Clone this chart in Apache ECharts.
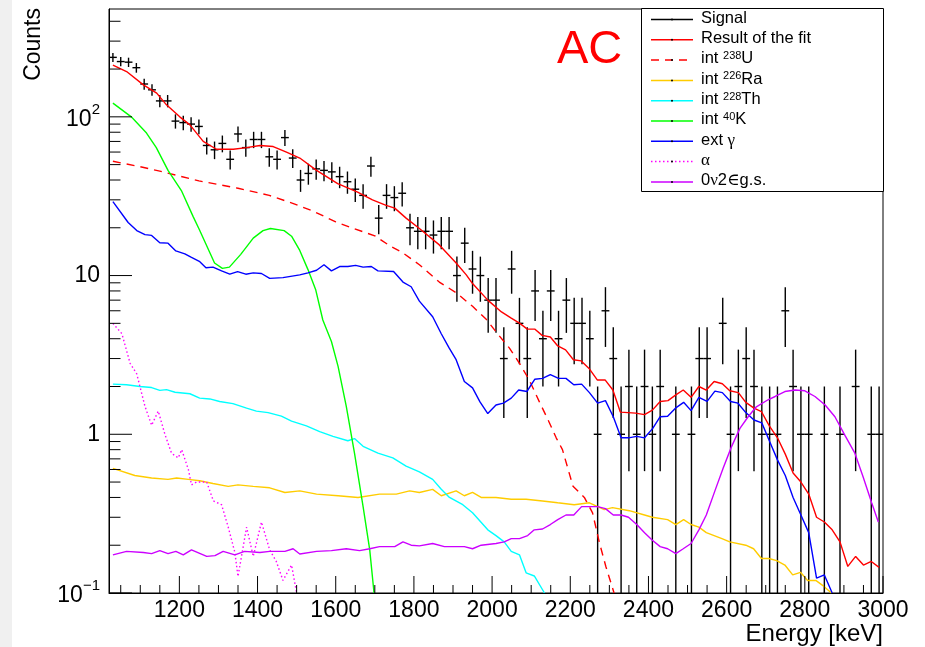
<!DOCTYPE html>
<html>
<head>
<meta charset="utf-8">
<title>AC energy spectrum fit</title>
<script src="https://cdn.jsdelivr.net/npm/echarts@6/dist/echarts.min.js"></script>
<style>
  html, body { margin: 0; padding: 0; background: #ffffff; }
  #chart { width: 925px; height: 647px; }
</style>
</head>
<body>
<div id="chart"></div>
<script>
// ---------- histogram binning ----------
const binLow = 1020;
const binWidth = 20;

// measured counts per 20 keV bin, 1020-3000 keV
const signalCounts = [
  237, 223, 221, 204, 161, 148, 126, 126, 94, 92,
  90, 87, 66, 62, 68, 54, 78, 64, 72, 72,
  56, 54, 74, 55, 40, 44, 47, 46, 45, 42,
  39, 35, 32, 49, 23, 32, 31, 33, 20, 19,
  19, 18, 19, 19, 10, 16, 11, 10, 7, 7,
  3, 11, 5, 3, 8, 4, 8, 4, 7, 5,
  5, 4, 1, 6, 3, 1, 2, 1, 2, 1,
  2, 0, 1, 0, 1, 3, 3, 0, 5, 1,
  2, 3, 2, 1, 1, 1, 6, 2, 1, 1,
  0, 1, 0, 1, 0, 2, 0, 1, 1
];

// total fit [keV, counts]
const fitCurve = [
  [1030,212],[1065,193],[1108,159],[1142,141],[1167,119],[1201,100],[1227,89],[1261,70],
  [1295,62.5],[1338,62.5],[1372,64],[1406,66],[1440,65],[1474,60],[1508,55],[1551,46],
  [1605,38],[1656,33.5],[1694,30],[1729,27.7],[1751,26.6],[1780,23],[1814,19.8],[1865,15.6],
  [1908,12],[1934,10.1],[1950,8.9],[1989,7.0],[2024,5.9],[2049,5.4],[2071,5.0],[2090,4.6],
  [2109,4.6],[2128,4.2],[2149,4.1],[2168,3.6],[2188,3.4],[2208,2.95],[2228,2.9],[2248,2.6],
  [2269,2.2],[2289,2.2],[2309,1.9],[2328,1.38],[2348,1.37],[2367,1.36],[2390,1.33],[2410,1.42],
  [2430,1.61],[2450,1.63],[2470,1.77],[2489,1.9],[2509,1.71],[2529,2.0],[2548,1.9],[2568,2.15],
  [2589,2.08],[2608,1.88],[2630,1.83],[2649,1.59],[2670,1.46],[2689,1.39],[2710,1.12],[2730,0.95],
  [2750,0.75],[2770,0.57],[2790,0.5],[2810,0.42],[2830,0.30],[2850,0.28],[2870,0.25],[2890,0.21],
  [2910,0.147],[2930,0.17],[2950,0.15],[2970,0.158],[2990,0.145]
];

// internal 238U
const u238Curve = [
  [1030,52.5],[1100,48.5],[1150,45.5],[1250,39.5],[1350,35.5],[1430,32],[1490,28.5],[1540,25.6],
  [1600,21.8],[1640,20],[1700,17.8],[1740,15.3],[1770,14],[1814,11.7],[1865,9.1],[1908,7.8],
  [1950,6.4],[1985,5.3],[2014,4.3],[2044,3.5],[2070,2.8],[2095,2.2],[2121,1.6],[2142,1.25],
  [2164,0.95],[2180,0.8],[2207,0.47],[2236,0.40],[2257,0.32],[2274,0.21],[2291,0.147],[2312,0.1]
];

// internal 226Ra
const ra226Curve = [
  [1030,0.61],[1086,0.55],[1129,0.53],[1171,0.52],[1193,0.53],[1223,0.52],[1252,0.51],[1286,0.49],
  [1325,0.47],[1350,0.48],[1389,0.47],[1431,0.46],[1470,0.43],[1508,0.44],[1551,0.42],[1606,0.41],
  [1657,0.40],[1712,0.42],[1755,0.42],[1789,0.44],[1814,0.43],[1848,0.45],[1870,0.41],[1908,0.44],
  [1929,0.41],[1950,0.43],[1972,0.40],[2010,0.40],[2049,0.39],[2087,0.39],[2129,0.38],[2168,0.37],
  [2210,0.36],[2249,0.37],[2287,0.335],[2308,0.345],[2351,0.33],[2390,0.31],[2410,0.30],[2449,0.29],
  [2470,0.27],[2490,0.29],[2509,0.27],[2529,0.26],[2548,0.24],[2588,0.22],[2608,0.21],[2649,0.20],
  [2669,0.19],[2689,0.165],[2708,0.165],[2728,0.16],[2749,0.15],[2769,0.13],[2789,0.135],[2807,0.12],
  [2828,0.12],[2849,0.11],[2868,0.1]
];

// internal 228Th
const th228Curve = [
  [1030,2.07],[1065,2.05],[1099,2.0],[1129,1.97],[1150,1.89],[1167,1.91],[1189,1.84],[1227,1.80],
  [1252,1.69],[1278,1.67],[1303,1.61],[1337,1.56],[1372,1.46],[1397,1.40],[1427,1.37],[1461,1.30],
  [1487,1.21],[1525,1.13],[1559,1.04],[1593,0.97],[1631,0.91],[1648,0.94],[1670,0.84],[1708,0.76],
  [1746,0.71],[1780,0.63],[1814,0.58],[1848,0.52],[1870,0.45],[1891,0.40],[1925,0.36],[1950,0.32],
  [1989,0.25],[2010,0.23],[2031,0.21],[2049,0.183],[2070,0.174],[2087,0.134],[2108,0.128],[2134,0.1]
];

// internal 40K
const k40Curve = [
  [1030,122],[1077,100],[1116,79],[1141,64],[1171,46],[1206,34],[1235,23.6],[1251,19.5],
  [1290,12],[1310,11.1],[1328,11.3],[1357,13.6],[1389,17.2],[1414,19.2],[1433,19.8],[1468,19.2],
  [1487,17.7],[1508,14.4],[1529,10.9],[1549,8.1],[1567,5.25],[1589,3.84],[1606,2.68],[1627,1.5],
  [1648,0.76],[1670,0.35],[1687,0.187],[1698,0.1]
];

// external gamma
const extGammaCurve = [
  [1030,29.2],[1069,21.6],[1091,19.2],[1112,18.1],[1129,17.9],[1150,16.1],[1171,16],[1191,14.3],
  [1214,13.7],[1231,13.0],[1251,12.3],[1268,11.2],[1286,11.3],[1308,10.7],[1329,10.2],[1349,10.6],
  [1370,10.2],[1389,10.4],[1410,10.3],[1431,9.6],[1465,9.7],[1508,10.1],[1529,10.4],[1551,10.8],
  [1570,11.7],[1589,10.7],[1610,11.4],[1631,11.4],[1651,11.6],[1670,11.3],[1691,11.4],[1708,10.7],
  [1748,10.6],[1772,9.1],[1793,8.5],[1814,6.9],[1848,5.5],[1870,4.3],[1890,3.5],[1908,2.95],
  [1929,2.15],[1950,1.96],[1969,1.6],[1989,1.35],[2010,1.53],[2029,1.57],[2049,1.69],[2068,1.9],
  [2089,1.86],[2109,2.22],[2129,2.25],[2149,2.38],[2170,2.25],[2189,2.25],[2209,2.05],[2229,2.07],
  [2249,1.83],[2270,1.57],[2290,1.63],[2310,1.29],[2330,0.95],[2349,0.95],[2370,0.97],[2390,0.95],
  [2411,1.09],[2430,1.29],[2449,1.3],[2469,1.46],[2490,1.59],[2509,1.41],[2529,1.71],[2550,1.61],
  [2570,1.87],[2589,1.83],[2610,1.61],[2629,1.57],[2649,1.37],[2670,1.23],[2690,1.18],[2710,0.9],
  [2730,0.69],[2750,0.55],[2770,0.40],[2790,0.31],[2810,0.24],[2830,0.124],[2850,0.13],[2870,0.1]
];

// surface alpha
const alphaCurve = [
  [1030,5.0],[1053,4.3],[1074,2.8],[1091,2.4],[1112,1.5],[1129,1.14],[1146,1.4],[1163,1.0],
  [1180,0.76],[1197,0.71],[1206,0.8],[1223,0.6],[1231,0.48],[1244,0.5],[1270,0.5],[1287,0.38],
  [1308,0.36],[1325,0.26],[1342,0.18],[1350,0.127],[1372,0.26],[1389,0.17],[1410,0.28],[1431,0.187],
  [1448,0.158],[1465,0.12],[1487,0.15],[1500,0.1]
];

// 0v2EC to ground state
const zeroNuCurve = [
  [1030,0.174],[1065,0.183],[1108,0.18],[1129,0.177],[1150,0.185],[1171,0.177],[1191,0.183],[1210,0.174],
  [1231,0.187],[1270,0.17],[1291,0.172],[1312,0.183],[1342,0.174],[1367,0.183],[1406,0.18],[1431,0.183],
  [1470,0.183],[1491,0.19],[1508,0.176],[1551,0.183],[1589,0.185],[1627,0.19],[1661,0.185],[1687,0.19],
  [1712,0.196],[1751,0.196],[1772,0.21],[1793,0.20],[1814,0.198],[1848,0.205],[1878,0.196],[1929,0.196],
  [1950,0.19],[1972,0.2],[2010,0.205],[2031,0.21],[2049,0.22],[2070,0.22],[2091,0.23],[2108,0.25],
  [2129,0.253],[2149,0.27],[2168,0.29],[2189,0.31],[2209,0.31],[2229,0.35],[2249,0.35],[2270,0.35],
  [2290,0.34],[2310,0.31],[2330,0.31],[2349,0.30],[2370,0.27],[2390,0.24],[2410,0.215],[2430,0.196],
  [2449,0.19],[2470,0.177],[2489,0.19],[2509,0.205],[2529,0.25],[2548,0.31],[2570,0.44],[2591,0.61],
  [2612,0.83],[2634,1.09],[2655,1.29],[2676,1.49],[2706,1.65],[2724,1.73],[2749,1.86],[2775,1.9],
  [2800,1.88],[2826,1.73],[2852,1.53],[2877,1.29],[2903,0.98],[2928,0.76],[2949,0.54],[2971,0.37],
  [2988,0.28]
];

// axis ticks and labels
const xMajorTicks = [1200, 1400, 1600, 1800, 2000, 2200, 2400, 2600, 2800, 3000];
const yTickValues = [0.1, 1, 10, 100];
const yTickBases = ['10', '1', '10', '10'];
const yTickExps = ['\u22121', '', '', '2'];

// ---------- drawing ----------
const X_MIN = 1020, X_MAX = 3000, Y_MIN = 0.1, Y_MAX = 478;
const SANS = "'Liberation Sans', Arial, Helvetica, sans-serif";
const SERIF = "'Liberation Serif', 'DejaVu Serif', serif";

const signalPoints = [];
signalCounts.forEach((n, k) => {
  if (n > 0) {
    const e = binLow + binWidth * (k + 0.5);
    const err = Math.sqrt(n);
    signalPoints.push([e, n, n - err, n + err]);
  }
});

const xMinorTicks = [];
for (let e = 1050; e <= X_MAX; e += 50) if (xMajorTicks.indexOf(e) < 0) xMinorTicks.push(e);
const yMinorTicks = [];
for (let d = -1; d <= 2; d++) {
  for (let m = 2; m <= 9; m++) {
    const v = +(m * Math.pow(10, d)).toPrecision(3);
    if (v < Y_MAX) yMinorTicks.push(v);
  }
}
const xTickData = xMajorTicks.map(v => [v, Y_MIN, 1]).concat(xMinorTicks.map(v => [v, Y_MIN, 0]));
const yTickData = yTickValues.map(v => [X_MIN, v, 1]).concat(yMinorTicks.map(v => [X_MIN, v, 0]));

const styles = {
  signal: { color: '#000000', dash: null },
  fit:    { color: '#ff0000', dash: null },
  u238:   { color: '#ff0000', dash: [8, 6] },
  ra226:  { color: '#ffcc00', dash: null },
  th228:  { color: '#00ffff', dash: null },
  k40:    { color: '#00ff00', dash: null },
  ext:    { color: '#0000ff', dash: null },
  alpha:  { color: '#ff00ff', dash: [1.5, 2.5] },
  zeroNu: { color: '#cc00ff', dash: null }
};

function curve(name, data, key) {
  const st = styles[key];
  return {
    type: 'line', name: name, data: data, showSymbol: false, symbol: 'none',
    clip: true, silent: true, z: 3,
    lineStyle: { color: st.color, width: 1.4, type: st.dash ? st.dash : 'solid' }
  };
}

const legendRows = [
  { key: 'signal', text: 'Signal' },
  { key: 'fit',    text: 'Result of the fit' },
  { key: 'u238',   text: 'int {s|238}U' },
  { key: 'ra226',  text: 'int {s|226}Ra' },
  { key: 'th228',  text: 'int {s|228}Th' },
  { key: 'k40',    text: 'int {s|40}K' },
  { key: 'ext',    text: 'ext {g|\u03b3}' },
  { key: 'alpha',  text: '{g|\u03b1}' },
  { key: 'zeroNu', text: '0{g|\u03bd}2{g|\u2208}g.s.' }
];

const legendRich = {
  s: { fontSize: 11, fontFamily: SANS, verticalAlign: 'top', lineHeight: 16, fill: '#000' },
  g: { fontSize: 17, fontFamily: SERIF, fill: '#000' }
};

const legendChildren = [{
  type: 'rect', shape: { x: 641.5, y: 8.5, width: 242, height: 183 },
  style: { fill: '#ffffff', stroke: '#000000', lineWidth: 1 }
}];
legendRows.forEach((row, i) => {
  const st = styles[row.key];
  const ly = 19.5 + 20.3 * i;
  legendChildren.push({
    type: 'line', shape: { x1: 651, y1: ly, x2: 693, y2: ly },
    style: { stroke: st.color, lineWidth: 1.5, lineDash: st.dash || null }
  });
  legendChildren.push({
    type: 'circle', shape: { cx: 672, cy: ly, r: 1 }, style: { fill: '#000' }
  });
  legendChildren.push({
    type: 'text', x: 701, y: ly - 1.2,
    style: {
      text: row.text, rich: legendRich, fontSize: 16.5, fontFamily: SANS,
      fill: '#000', align: 'left', verticalAlign: 'middle'
    }
  });
});

const chart = echarts.init(document.getElementById('chart'));
chart.setOption({
  animation: false,
  backgroundColor: '#ffffff',
  grid: {
    left: 109, top: 9, width: 774, height: 584,
    show: true, borderColor: '#000000', borderWidth: 1, backgroundColor: '#ffffff'
  },
  xAxis: {
    type: 'value', min: X_MIN, max: X_MAX,
    axisLine: { show: true, lineStyle: { color: '#000', width: 1 } },
    axisTick: { show: false },
    splitLine: { show: false },
    axisLabel: {
      customValues: xMajorTicks, fontSize: 23, fontFamily: SANS, color: '#000', margin: 6,
      formatter: function (v) { return String(Math.round(v)); }
    }
  },
  yAxis: {
    type: 'log', logBase: 10, min: Y_MIN, max: Y_MAX,
    axisLine: { show: true, lineStyle: { color: '#000', width: 1 } },
    axisTick: { show: false },
    minorTick: { show: false },
    splitLine: { show: false },
    minorSplitLine: { show: false },
    axisLabel: {
      margin: 9, color: '#000', fontFamily: SANS, fontSize: 23,
      formatter: function (v) {
        const i = yTickValues.findIndex(t => Math.abs(Math.log10(v / t)) < 1e-6);
        if (i < 0) return '';
        return yTickExps[i]
          ? '{b|' + yTickBases[i] + '}{s|' + yTickExps[i] + '}'
          : '{p|' + yTickBases[i] + '}';
      },
      rich: {
        p: { fontSize: 23, fontFamily: SANS, color: '#000' },
        b: { fontSize: 23, fontFamily: SANS, color: '#000', padding: [6, 0, 0, 0], verticalAlign: 'bottom' },
        s: { fontSize: 15, fontFamily: SANS, color: '#000', lineHeight: 23, verticalAlign: 'top' }
      }
    }
  },
  series: [
    {
      type: 'custom', name: 'xTicks', data: xTickData, encode: { x: 0, y: 1 },
      silent: true, z: 5, clip: false,
      renderItem: function (params, api) {
        const p = api.coord([api.value(0), Y_MIN]);
        const len = api.value(2) ? 17 : 8;
        return { type: 'line', shape: { x1: p[0], y1: p[1], x2: p[0], y2: p[1] - len },
                 style: { stroke: '#000', lineWidth: 1 } };
      }
    },
    {
      type: 'custom', name: 'yTicks', data: yTickData, encode: { x: 0, y: 1 },
      silent: true, z: 5, clip: false,
      renderItem: function (params, api) {
        const p = api.coord([X_MIN, api.value(1)]);
        const len = api.value(2) ? 23 : 11.5;
        return { type: 'line', shape: { x1: p[0], y1: p[1], x2: p[0] + len, y2: p[1] },
                 style: { stroke: '#000', lineWidth: 1 } };
      }
    },
    {
      type: 'custom', name: 'Signal', data: signalPoints, encode: { x: 0, y: 1 },
      silent: true, z: 2, clip: true,
      renderItem: function (params, api) {
        const e = api.value(0), n = api.value(1), lo = api.value(2), hi = api.value(3);
        const c = api.coord([e, n]);
        const l = api.coord([e - binWidth / 2, n]);
        const r = api.coord([e + binWidth / 2, n]);
        const t = api.coord([e, hi]);
        const b = api.coord([e, lo > 0 ? lo : Y_MIN / 100]);
        const st = { stroke: styles.signal.color, lineWidth: 1.4 };
        return {
          type: 'group',
          children: [
            { type: 'line', shape: { x1: c[0], y1: t[1], x2: c[0], y2: b[1] }, style: st },
            { type: 'line', shape: { x1: l[0], y1: c[1], x2: r[0], y2: c[1] }, style: st }
          ]
        };
      }
    },
    curve('Result of the fit', fitCurve, 'fit'),
    curve('int 238U', u238Curve, 'u238'),
    curve('int 226Ra', ra226Curve, 'ra226'),
    curve('int 228Th', th228Curve, 'th228'),
    curve('int 40K', k40Curve, 'k40'),
    curve('ext gamma', extGammaCurve, 'ext'),
    curve('alpha', alphaCurve, 'alpha'),
    curve('0v2EC g.s.', zeroNuCurve, 'zeroNu')
  ],
  graphic: [
    { type: 'rect', z: -10, shape: { x: 0, y: 0, width: 12, height: 647 }, style: { fill: '#f0f0f0' } },
    {
      type: 'text', x: 33.5, y: 8, rotation: Math.PI / 2,
      style: { text: 'Counts', fontSize: 23, fontFamily: SANS, fill: '#000', align: 'right', verticalAlign: 'middle' }
    },
    {
      type: 'text', x: 883, y: 634,
      style: { text: 'Energy [keV]', fontSize: 24, fontFamily: SANS, fill: '#000', align: 'right', verticalAlign: 'middle' }
    },
    {
      type: 'text', x: 557, y: 50,
      style: { text: 'AC', fontSize: 47, fontFamily: SANS, fill: '#ff0000', align: 'left', verticalAlign: 'middle' }
    },
    { type: 'group', z: 100, children: legendChildren }
  ]
});
</script>
</body>
</html>
